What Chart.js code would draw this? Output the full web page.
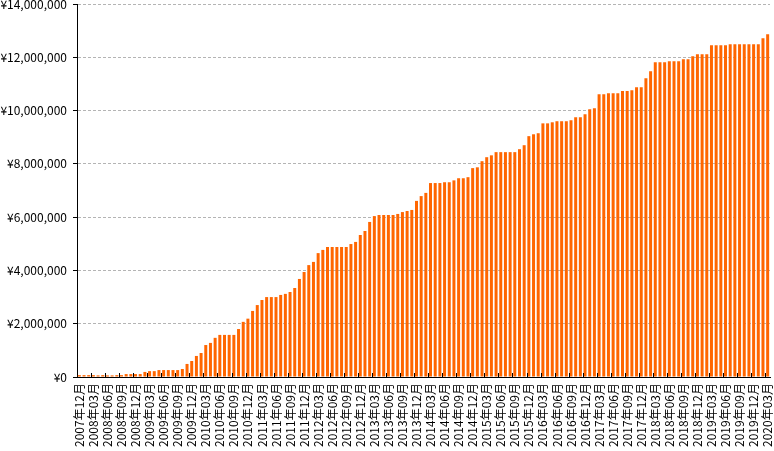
<!DOCTYPE html>
<html lang="ja">
  <head>
    <meta charset="UTF-8" />
    <title>累計グラフ</title>
    <script src="https://cdn.jsdelivr.net/npm/chart.js"></script>
    <style>
      * {
        margin: 0;
        padding: 0;
        box-sizing: border-box;
      }
      body {
        background: #fff;
      }
      .chart-box {
        position: relative;
        width: 774px;
        height: 451px;
      }
    </style>
  </head>
  <body>
    <div class="chart-box">
      <canvas id="chart"></canvas>
    </div>

    <script>
      // 期間: 2007年12月 〜 2020年03月 (月次)
      var startYear = 2007;
      var startMonth = 12;
      var monthCount = 148;

      var months = [];
      for (var k = 0; k < monthCount; k++) {
        var m = startMonth - 1 + k;
        var y = startYear + Math.floor(m / 12);
        var mm = (m % 12) + 1;
        months.push(y + "年" + (mm < 10 ? "0" + mm : mm) + "月");
      }

      // 累計額 (円)
      var totals = [
        70000, 70000, 70000, 70000, 60000, 70000, 60000, 60000, 70000, 70000,
        110000, 110000, 110000, 110000, 190000, 220000, 220000, 260000, 260000, 260000,
        260000, 260000, 300000, 490000, 600000, 790000, 900000, 1200000, 1280000, 1470000,
        1580000, 1580000, 1580000, 1580000, 1800000, 2070000, 2190000, 2480000, 2700000, 2890000,
        3000000, 3000000, 3000000, 3080000, 3120000, 3190000, 3340000, 3680000, 3940000, 4200000,
        4320000, 4650000, 4770000, 4880000, 4880000, 4880000, 4880000, 4880000, 4990000, 5070000,
        5330000, 5480000, 5820000, 6040000, 6080000, 6080000, 6080000, 6080000, 6120000, 6190000,
        6230000, 6270000, 6610000, 6790000, 6910000, 7280000, 7280000, 7280000, 7310000, 7310000,
        7380000, 7460000, 7460000, 7500000, 7840000, 7870000, 8100000, 8250000, 8320000, 8440000,
        8440000, 8440000, 8440000, 8440000, 8550000, 8700000, 9040000, 9110000, 9150000, 9520000,
        9520000, 9560000, 9600000, 9600000, 9600000, 9640000, 9750000, 9750000, 9860000, 10050000,
        10090000, 10610000, 10610000, 10650000, 10650000, 10650000, 10730000, 10730000, 10760000, 10880000,
        10880000, 11210000, 11480000, 11810000, 11810000, 11810000, 11850000, 11850000, 11850000, 11930000,
        11930000, 12040000, 12110000, 12110000, 12110000, 12450000, 12450000, 12450000, 12450000, 12490000,
        12490000, 12490000, 12490000, 12490000, 12490000, 12490000, 12710000, 12860000
      ];

      // 軸の目盛り
      var yMax = 14000000;
      var yStep = 2000000;
      var labelEvery = 3;

      var font = "'Noto Sans CJK JP', 'Noto Sans', sans-serif";

      // 内向きの目盛り線 (3か月ごと、カテゴリの境目)
      var innerTicks = {
        id: "innerTicks",
        afterDatasetsDraw: function (chart) {
          var x = chart.scales.x;
          var ctx = chart.ctx;
          var bottom = chart.chartArea.bottom;
          ctx.save();
          ctx.strokeStyle = "#000";
          ctx.lineWidth = 1;
          ctx.beginPath();
          for (var i = labelEvery; i < months.length; i += labelEvery) {
            var px = Math.round((x.getPixelForValue(i - 1) + x.getPixelForValue(i)) / 2) + 0.5;
            ctx.moveTo(px, bottom);
            ctx.lineTo(px, bottom - 4);
          }
          ctx.stroke();
          ctx.restore();
        },
      };

      new Chart(document.getElementById("chart"), {
        type: "bar",
        data: {
          labels: months,
          datasets: [
            {
              data: totals,
              backgroundColor: "#ff6600",
              borderWidth: 0,
              barPercentage: 0.64,
              categoryPercentage: 1,
            },
          ],
        },
        options: {
          responsive: true,
          maintainAspectRatio: false,
          animation: false,
          layout: {
            padding: { top: 4, right: 4, left: 0, bottom: 0 },
          },
          plugins: {
            legend: { display: false },
            tooltip: { enabled: false },
          },
          scales: {
            x: {
              grid: { display: false, drawTicks: false },
              border: { display: true, color: "#000", width: 1 },
              ticks: {
                autoSkip: false,
                maxRotation: 90,
                minRotation: 90,
                padding: 6,
                color: "#000",
                font: { family: font, size: 12 },
                callback: function (value, index) {
                  return index % labelEvery === 0 ? months[index] : "";
                },
              },
              afterFit: function (scale) {
                scale.height = 74;
                scale.paddingLeft = 0;
                scale.paddingRight = 0;
              },
            },
            y: {
              min: 0,
              max: yMax,
              grid: {
                color: "#b4b4b4",
                tickColor: "#000",
                tickLength: 4,
                lineWidth: 1,
              },
              border: { display: true, color: "#000", width: 1, dash: [3, 2] },
              ticks: {
                stepSize: yStep,
                padding: 6,
                color: "#000",
                font: { family: font, size: 12 },
                callback: function (value) {
                  return "¥" + value.toLocaleString("en-US");
                },
              },
              afterFit: function (scale) {
                scale.width = 77;
                scale.paddingTop = 0;
                scale.paddingBottom = 0;
              },
            },
          },
        },
        plugins: [innerTicks],
      });
    </script>
  </body>
</html>
